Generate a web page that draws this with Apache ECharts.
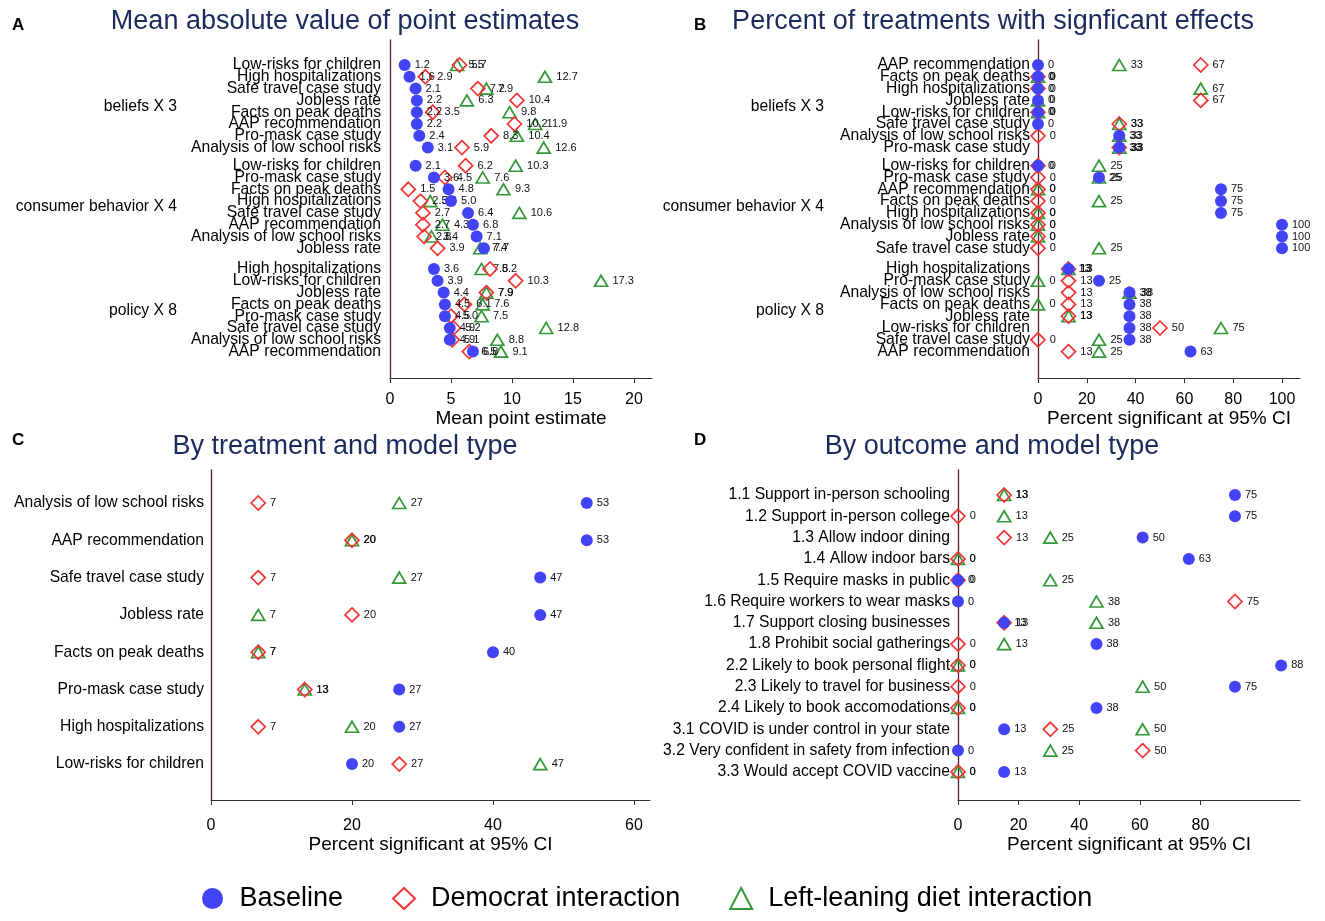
<!DOCTYPE html>
<html><head><meta charset="utf-8">
<script src="https://cdn.jsdelivr.net/npm/echarts@6/dist/echarts.min.js"></script>
<style>html,body{margin:0;padding:0;background:#fff}#c{width:1325px;height:921px}</style>
</head><body><div id="c"></div>
<script>
// ---------------- DATA ----------------
const seriesNames = ['Baseline', 'Democrat interaction', 'Left-leaning diet interaction'];
const groupLabels = ['beliefs X 3', 'consumer behavior X 4', 'policy X 8'];

// Panel A: Mean absolute value of point estimates
const aBeliefsCats = ['Low-risks for children','High hospitalizations','Safe travel case study','Jobless rate','Facts on peak deaths','AAP recommendation','Pro-mask case study','Analysis of low school risks'];
const aBeliefsBase = [1.2, 1.6, 2.1, 2.2, 2.2, 2.2, 2.4, 3.1];
const aBeliefsDem  = [5.7, 2.9, 7.2, 10.4, 3.5, 10.2, 8.3, 5.9];
const aBeliefsLeft = [5.5, 12.7, 7.9, 6.3, 9.8, 11.9, 10.4, 12.6];

const aConsCats = ['Low-risks for children','Pro-mask case study','Facts on peak deaths','High hospitalizations','Safe travel case study','AAP recommendation','Analysis of low school risks','Jobless rate'];
const aConsBase = [2.1, 3.6, 4.8, 5.0, 6.4, 6.8, 7.1, 7.7];
const aConsDem  = [6.2, 4.5, 1.5, 2.5, 2.7, 2.7, 2.8, 3.9];
const aConsLeft = [10.3, 7.6, 9.3, 3.3, 10.6, 4.3, 3.4, 7.4];

const aPolCats = ['High hospitalizations','Low-risks for children','Jobless rate','Facts on peak deaths','Pro-mask case study','Safe travel case study','Analysis of low school risks','AAP recommendation'];
const aPolBase = [3.6, 3.9, 4.4, 4.5, 4.5, 4.9, 4.9, 6.8];
const aPolDem  = [8.2, 10.3, 7.9, 6.1, 5.0, 5.2, 5.1, 6.5];
const aPolLeft = [7.5, 17.3, 7.9, 7.6, 7.5, 12.8, 8.8, 9.1];

// Panel B: Percent of treatments with significant effects
const bBeliefsCats = ['AAP recommendation','Facts on peak deaths','High hospitalizations','Jobless rate','Low-risks for children','Safe travel case study','Analysis of low school risks','Pro-mask case study'];
const bBeliefsBase = [0, 0, 0, 0, 0, 0, 33.3, 33.3];
const bBeliefsDem  = [66.7, 0, 0, 66.7, 0, 33.3, 0, 33.3];
const bBeliefsLeft = [33.3, 0, 66.7, 0, 0, 33.3, 33.3, 33.3];

const bConsCats = ['Low-risks for children','Pro-mask case study','AAP recommendation','Facts on peak deaths','High hospitalizations','Analysis of low school risks','Jobless rate','Safe travel case study'];
const bConsBase = [0, 25, 75, 75, 75, 100, 100, 100];
const bConsDem  = [0, 0, 0, 0, 0, 0, 0, 0];
const bConsLeft = [25, 25, 0, 25, 0, 0, 0, 25];

const bPolCats = ['High hospitalizations','Pro-mask case study','Analysis of low school risks','Facts on peak deaths','Jobless rate','Low-risks for children','Safe travel case study','AAP recommendation'];
const bPolBase = [12.5, 25, 37.5, 37.5, 37.5, 37.5, 37.5, 62.5];
const bPolDem  = [12.5, 12.5, 12.5, 12.5, 12.5, 50, 0, 12.5];
const bPolLeft = [12.5, 0, 37.5, 0, 12.5, 75, 25, 25];

// Panel C: By treatment and model type
const cCats = ['Analysis of low school risks','AAP recommendation','Safe travel case study','Jobless rate','Facts on peak deaths','Pro-mask case study','High hospitalizations','Low-risks for children'];
const cBase = [53.3, 53.3, 46.7, 46.7, 40, 26.7, 26.7, 20];
const cDem  = [6.7, 20, 6.7, 20, 6.7, 13.3, 6.7, 26.7];
const cLeft = [26.7, 20, 26.7, 6.7, 6.7, 13.3, 20, 46.7];

// Panel D: By outcome and model type
const dCats = ['1.1 Support in-person schooling','1.2 Support in-person college','1.3 Allow indoor dining','1.4 Allow indoor bars','1.5 Require masks in public','1.6 Require workers to wear masks','1.7 Support closing businesses','1.8 Prohibit social gatherings','2.2 Likely to book personal flight','2.3 Likely to travel for business','2.4 Likely to book accomodations','3.1 COVID is under control in your state','3.2 Very confident in safety from infection','3.3 Would accept COVID vaccine'];
const dBase = [75, 75, 50, 62.5, 0, 0, 12.5, 37.5, 87.5, 75, 37.5, 12.5, 0, 12.5];
const dDem  = [12.5, 0, 12.5, 0, 0, 75, 12.5, 0, 0, 0, 0, 25, 50, 0];
const dLeft = [12.5, 12.5, 25, 0, 25, 37.5, 37.5, 12.5, 0, 50, 0, 50, 25, 0];

// Axis tick labels
const aTicks = [0, 5, 10, 15, 20];
const bTicks = [0, 20, 40, 60, 80, 100];
const cTicks = [0, 20, 40, 60];
const dTicks = [0, 20, 40, 60, 80];

// ---------------- BUILD ----------------
const FONT = '"Liberation Sans", Arial, sans-serif';
const COL = { base: '#4343f6', dem: '#f23434', left: '#35993a' };
const grid = [], xAxis = [], yAxis = [], series = [];

function addFrame(p) {
  const gi = grid.length;
  grid.push({ left: p.left, top: p.top, width: p.width, height: p.height });
  xAxis.push({
    type: 'value', gridIndex: gi, min: 0, max: p.max,
    axisLine: { show: true, onZero: false, lineStyle: { color: '#333', width: 1 } },
    axisTick: { show: true, customValues: p.ticks, length: 5, lineStyle: { color: '#333' } },
    axisLabel: { customValues: p.ticks, margin: p.labelMargin, fontSize: 16, color: '#000', fontFamily: FONT },
    splitLine: { show: false },
    name: p.name, nameLocation: 'middle', nameGap: p.nameGap,
    nameTextStyle: { fontSize: 19, color: '#000', fontFamily: FONT }
  });
  yAxis.push({
    type: 'value', gridIndex: gi, min: 0, max: 1,
    axisLine: { show: true, onZero: false, lineStyle: { color: '#5a1a26', width: 1.3 } },
    axisTick: { show: false }, axisLabel: { show: false }, splitLine: { show: false }
  });
}

function addGroup(p, cats, base, dem, left, fmt, groupLabel) {
  const gi = grid.length;
  grid.push({ left: p.left, top: p.top, width: p.width, height: p.height });
  xAxis.push({ type: 'value', gridIndex: gi, min: 0, max: p.max, show: false });
  yAxis.push({
    type: 'category', gridIndex: gi, inverse: true, data: cats,
    axisLine: { show: false }, axisTick: { show: false }, splitLine: { show: false },
    axisLabel: { interval: 0, margin: p.labelMargin, fontSize: 15.7, color: '#000', fontFamily: FONT },
    name: groupLabel || '', nameLocation: 'middle', nameRotate: 0, nameGap: p.nameGap || 0,
    nameTextStyle: { fontSize: 15.7, color: '#000', fontFamily: FONT, align: 'right', verticalAlign: 'middle' }
  });
  const ai = xAxis.length - 1;
  const defs = [
    { name: seriesNames[2], vals: left, symbol: 'triangle', size: [13, 11], style: { color: 'rgba(255,255,255,0)', borderColor: COL.left, borderWidth: 1.7, opacity: 1 }, z: 2 },
    { name: seriesNames[1], vals: dem, symbol: 'diamond', size: 14, style: { color: 'rgba(255,255,255,0)', borderColor: COL.dem, borderWidth: 1.7, opacity: 1 }, z: 3 },
    { name: seriesNames[0], vals: base, symbol: 'circle', size: 12, style: { color: COL.base, opacity: 1 }, z: 4 }
  ];
  defs.forEach(d => {
    series.push({
      type: 'scatter', name: d.name, xAxisIndex: ai, yAxisIndex: ai, z: d.z,
      symbol: d.symbol, symbolSize: d.size, itemStyle: d.style,
      data: d.vals.map((v, i) => [v, i]),
      label: { show: true, position: 'right', distance: 4, formatter: q => fmt(q.value[0]), fontSize: 11, color: '#111', fontFamily: FONT },
      emphasis: { disabled: true }
    });
  });
}

const fmt1 = v => v.toFixed(1);
const fmt0 = v => String(Math.round(v));

// Panel A
addFrame({ left: 390, top: 40, width: 262, height: 338, max: 262 / 12.2, ticks: aTicks, name: 'Mean point estimate', labelMargin: 14, nameGap: 30 });
const groupTops = [59.1, 159.8, 263.1];
const aSets = [[aBeliefsCats, aBeliefsBase, aBeliefsDem, aBeliefsLeft], [aConsCats, aConsBase, aConsDem, aConsLeft], [aPolCats, aPolBase, aPolDem, aPolLeft]];
aSets.forEach((s, g) => addGroup({ left: 390, top: groupTops[g], width: 262, height: 94.4, max: 262 / 12.2, labelMargin: 9, nameGap: 213 }, s[0], s[1], s[2], s[3], fmt1, groupLabels[g]));

// Panel B
addFrame({ left: 1038, top: 40, width: 262, height: 338, max: 262 / 2.44, ticks: bTicks, name: 'Percent significant at 95% CI', labelMargin: 14, nameGap: 30 });
const bSets = [[bBeliefsCats, bBeliefsBase, bBeliefsDem, bBeliefsLeft], [bConsCats, bConsBase, bConsDem, bConsLeft], [bPolCats, bPolBase, bPolDem, bPolLeft]];
bSets.forEach((s, g) => addGroup({ left: 1038, top: groupTops[g], width: 262, height: 94.4, max: 262 / 2.44, labelMargin: 8, nameGap: 214 }, s[0], s[1], s[2], s[3], fmt0, groupLabels[g]));

// Panel C
addFrame({ left: 211, top: 470, width: 439, height: 330, max: 439 / 7.05, ticks: cTicks, name: 'Percent significant at 95% CI', labelMargin: 18, nameGap: 34 });
addGroup({ left: 211, top: 484.35, width: 439, height: 298.4, max: 439 / 7.05, labelMargin: 7 }, cCats, cBase, cDem, cLeft, fmt0, '');

// Panel D
addFrame({ left: 958, top: 470, width: 342, height: 330, max: 342 / 3.03, ticks: dTicks, name: 'Percent significant at 95% CI', labelMargin: 18, nameGap: 34 });
addGroup({ left: 958, top: 484.35, width: 342, height: 298.2, max: 342 / 3.693, labelMargin: 8 }, dCats, dBase, dDem, dLeft, fmt0, '');

const TITLE_COL = '#1b2a5c';
function txt(x, y, text, size, opts) {
  return { type: 'text', x: x, y: y, style: { text: text, font: (opts && opts.bold ? 'bold ' : '') + size + 'px ' + FONT, fill: (opts && opts.fill) || '#000', textAlign: (opts && opts.align) || 'center', textVerticalAlign: 'middle' } };
}
const graphic = [
  txt(345, 22, 'Mean absolute value of point estimates', 27, { fill: TITLE_COL }),
  txt(993, 22, 'Percent of treatments with signficant effects', 27, { fill: TITLE_COL }),
  txt(345, 447, 'By treatment and model type', 27, { fill: TITLE_COL }),
  txt(992, 447, 'By outcome and model type', 27, { fill: TITLE_COL }),
  txt(12, 25, 'A', 17, { bold: true, align: 'left' }),
  txt(694, 25, 'B', 17, { bold: true, align: 'left' }),
  txt(12, 440, 'C', 17, { bold: true, align: 'left' }),
  txt(694, 440, 'D', 17, { bold: true, align: 'left' })
];

const chart = echarts.init(document.getElementById('c'), null, { renderer: 'canvas' });
chart.setOption({
  animation: false,
  backgroundColor: '#fff',
  grid: grid, xAxis: xAxis, yAxis: yAxis, series: series,
  legend: {
    data: seriesNames, left: 197, top: 880, itemWidth: 22, itemHeight: 21, itemGap: 49,
    textStyle: { fontSize: 27, color: '#000', fontFamily: FONT, padding: [0, 0, 0, 11] }, selectedMode: false
  },
  graphic: graphic
});
</script></body></html>
